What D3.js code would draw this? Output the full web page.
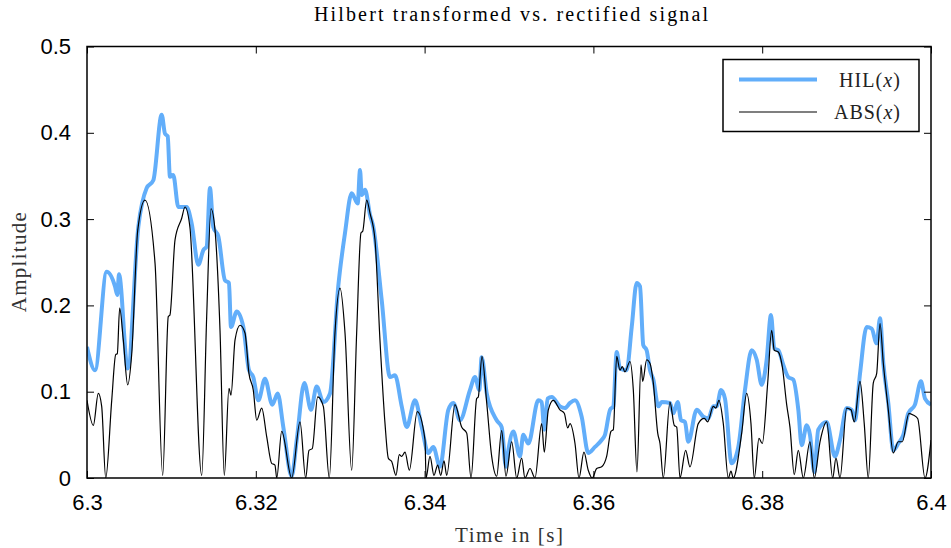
<!DOCTYPE html>
<html><head><meta charset="utf-8">
<script src="https://cdn.jsdelivr.net/npm/d3@7"></script>
<style>body{margin:0;background:#fff}</style>
</head><body>
<svg id="c" width="951" height="548"></svg>
<script>
// ---- data ----
const hilTime=[6.3,6.30095,6.30233,6.30332,6.30359,6.30379,6.30482,6.30608,6.30707,6.30786,6.30885,6.30924,6.30956,6.30983,6.31022,6.31082,6.31181,6.31240,6.31319,6.31378,6.31418,6.31457,6.31496,6.31556,6.31635,6.31682,6.31706,6.31774,6.31852,6.31919,6.31970,6.32030,6.32109,6.32195,6.32259,6.32326,6.32425,6.32485,6.32575,6.32654,6.32721,6.32800,6.32879,6.32977,6.33057,6.33136,6.33207,6.33235,6.33255,6.33294,6.33353,6.33392,6.33492,6.33590,6.33649,6.33729,6.33788,6.33886,6.33966,6.34044,6.34103,6.34182,6.34281,6.34340,6.34419,6.34538,6.34597,6.34648,6.34676,6.34736,6.34854,6.34913,6.34964,6.34992,6.35051,6.35130,6.35169,6.35229,6.35347,6.35387,6.35418,6.35458,6.35506,6.35604,6.35663,6.35723,6.35782,6.35861,6.35939,6.36019,6.36098,6.36137,6.36197,6.36236,6.36276,6.36315,6.36394,6.36454,6.36513,6.36552,6.36591,6.36631,6.36670,6.36710,6.36769,6.36809,6.36907,6.36947,6.36999,6.37038,6.37085,6.37124,6.37224,6.37302,6.37361,6.37420,6.37461,6.37512,6.37559,6.37638,6.37717,6.37796,6.37875,6.37935,6.37994,6.38053,6.38104,6.38143,6.38191,6.38250,6.38309,6.38368,6.38428,6.38468,6.38527,6.38566,6.38617,6.38664,6.38764,6.38862,6.38922,6.39001,6.39060,6.39099,6.39159,6.39238,6.39297,6.39356,6.39396,6.39435,6.39494,6.39553,6.39612,6.39672,6.39731,6.39810,6.39881,6.39929,6.4];
const hilAmp=[0.152,0.125,0.239,0.222,0.212,0.236,0.127,0.291,0.336,0.345,0.421,0.399,0.396,0.349,0.351,0.314,0.314,0.295,0.247,0.264,0.268,0.336,0.291,0.280,0.229,0.226,0.175,0.193,0.175,0.125,0.117,0.090,0.115,0.085,0.098,0.059,0.002,0.044,0.110,0.079,0.106,0.088,0.098,0.222,0.284,0.330,0.318,0.357,0.328,0.334,0.305,0.291,0.206,0.117,0.119,0.083,0.059,0.090,0.059,0.029,0.036,0.013,0.079,0.087,0.067,0.102,0.117,0.102,0.140,0.098,0.067,0.059,0.013,0.032,0.054,0.025,0.050,0.040,0.090,0.088,0.056,0.092,0.094,0.083,0.081,0.087,0.090,0.071,0.029,0.036,0.044,0.050,0.079,0.083,0.146,0.127,0.125,0.175,0.226,0.222,0.154,0.148,0.125,0.114,0.083,0.088,0.087,0.075,0.088,0.067,0.065,0.042,0.079,0.071,0.069,0.083,0.083,0.102,0.092,0.017,0.036,0.102,0.148,0.137,0.108,0.137,0.189,0.150,0.148,0.131,0.117,0.114,0.079,0.038,0.061,0.050,0.007,0.056,0.065,0.025,0.044,0.081,0.079,0.067,0.121,0.175,0.173,0.156,0.185,0.133,0.087,0.032,0.040,0.050,0.075,0.085,0.112,0.092,0.085];
const absTime=[6.3,6.30075,6.30134,6.30174,6.30222,6.30293,6.30340,6.30359,6.30387,6.30430,6.30482,6.30530,6.30601,6.30687,6.30806,6.30897,6.30963,6.30983,6.31043,6.31122,6.31161,6.31220,6.31359,6.31418,6.31469,6.31517,6.31576,6.31627,6.31682,6.31706,6.31754,6.31813,6.31872,6.31919,6.31970,6.32011,6.32070,6.32129,6.32188,6.32227,6.32248,6.32307,6.32425,6.32524,6.32591,6.32630,6.32669,6.32733,6.32800,6.32871,6.32938,6.32998,6.33057,6.33136,6.33195,6.33246,6.33267,6.33314,6.33353,6.33412,6.33471,6.33531,6.33570,6.33610,6.33661,6.33700,6.33729,6.33768,6.33819,6.33913,6.34005,6.34017,6.34064,6.34111,6.34155,6.34191,6.34230,6.34262,6.34360,6.34439,6.34499,6.34550,6.34617,6.34636,6.34680,6.34736,6.34795,6.34854,6.34913,6.34964,6.35032,6.35091,6.35150,6.35189,6.35249,6.35308,6.35387,6.35418,6.35466,6.35525,6.35604,6.35655,6.35695,6.35723,6.35782,6.35829,6.35888,6.35939,6.35987,6.36039,6.36098,6.36157,6.36208,6.36236,6.36276,6.36315,6.36342,6.36374,6.36433,6.36473,6.36516,6.36564,6.36584,6.36631,6.36670,6.36710,6.36762,6.36789,6.36828,6.36907,6.36958,6.36987,6.37026,6.37093,6.37144,6.37243,6.37314,6.37354,6.37420,6.37452,6.37488,6.37539,6.37598,6.37630,6.37657,6.37757,6.37816,6.37867,6.37906,6.37962,6.38001,6.38065,6.38112,6.38143,6.38191,6.38238,6.38290,6.38329,6.38380,6.38428,6.38487,6.38566,6.38617,6.38685,6.38764,6.38835,6.38874,6.38922,6.39001,6.39052,6.39091,6.39159,6.39209,6.39257,6.39316,6.39356,6.39396,6.39435,6.39494,6.39553,6.39612,6.39660,6.39739,6.39790,6.39842,6.39929,6.4];
const absAmp=[0.090,0.061,0.098,0.083,0.0,0.090,0.143,0.144,0.197,0.160,0.108,0.144,0.287,0.322,0.249,0.003,0.187,0.189,0.276,0.301,0.314,0.290,0.003,0.187,0.312,0.287,0.171,0.003,0.104,0.096,0.160,0.177,0.168,0.121,0.102,0.067,0.081,0.048,0.017,0.015,0.0,0.054,0.0,0.065,0.0,0.032,0.034,0.094,0.083,0.0,0.168,0.220,0.168,0.009,0.168,0.284,0.286,0.322,0.307,0.276,0.160,0.063,0.023,0.019,0.003,0.027,0.025,0.030,0.009,0.077,0.044,0.0,0.025,0.003,0.015,0.003,0.020,0.003,0.085,0.059,0.052,0.0,0.092,0.094,0.141,0.087,0.025,0.002,0.055,0.002,0.042,0.0,0.023,0.0,0.011,0.0,0.063,0.030,0.079,0.090,0.079,0.075,0.058,0.063,0.040,0.0,0.030,0.009,0.0,0.011,0.013,0.025,0.054,0.056,0.141,0.125,0.129,0.123,0.135,0.102,0.007,0.131,0.112,0.137,0.133,0.110,0.052,0.040,0.0,0.088,0.061,0.059,0.0,0.032,0.013,0.063,0.069,0.065,0.083,0.081,0.090,0.063,0.0,0.008,0.0,0.052,0.098,0.063,0.0,0.046,0.040,0.110,0.171,0.148,0.146,0.129,0.085,0.059,0.004,0.032,0.0,0.042,0.0,0.042,0.065,0.0,0.023,0.0,0.081,0.079,0.065,0.112,0.063,0.0,0.110,0.121,0.179,0.133,0.079,0.029,0.042,0.042,0.075,0.073,0.069,0.0,0.044];
const xTickValues=[6.3,6.32,6.34,6.36,6.38,6.4];
const yTickValues=[0,0.1,0.2,0.3,0.4,0.5];
const seriesLabels=["HIL","ABS"];
const titleText="Hilbert transformed vs. rectified signal";
const xLabelText="Time in [s]";
const yLabelText="Amplitude";

// ---- layout ----
const W=951,H=548;
const m={left:87,right:20,top:46.5,bottom:70};
const pw=W-m.left-m.right, ph=H-m.top-m.bottom;
const svg=d3.select("#c");
const g=svg.append("g").attr("transform",`translate(${m.left},${m.top})`);
const x=d3.scaleLinear().domain([6.3,6.4]).range([0,pw]);
const y=d3.scaleLinear().domain([0,0.5]).range([ph,0]);

const hil=hilTime.map((t,i)=>[t,hilAmp[i]]);
const abs=absTime.map((t,i)=>[t,absAmp[i]]);
const line=d3.line().x(d=>x(d[0])).y(d=>y(d[1])).curve(d3.curveMonotoneX);

svg.append("defs").append("clipPath").attr("id","clip").append("rect").attr("width",pw).attr("height",ph);
const plot=g.append("g").attr("clip-path","url(#clip)");
plot.append("path").datum(hil).attr("d",line).attr("fill","none").attr("stroke","#62aefa").attr("stroke-width",4).attr("stroke-linejoin","round");
plot.append("path").datum(abs).attr("d",line).attr("fill","none").attr("stroke","#000").attr("stroke-width",1.2).attr("stroke-linejoin","round");

// axes (ticks inward on all sides)
const tickFont='"Liberation Sans", Arial, sans-serif';
const serif='"Liberation Serif", "Times New Roman", serif';
const ax=(sel)=>{sel.select(".domain").remove();sel.selectAll("line").attr("stroke","#000").attr("stroke-width",1);};
g.append("g").attr("transform",`translate(0,${ph})`).call(d3.axisBottom(x).tickValues(xTickValues).tickSizeInner(-7).tickSizeOuter(0).tickPadding(16).tickFormat(d3.format("~g")))
 .call(ax).selectAll("text").attr("font-family",tickFont).attr("font-size",22).attr("fill","#000");
g.append("g").call(d3.axisTop(x).tickValues(xTickValues).tickSizeInner(-7).tickSizeOuter(0).tickFormat(""))
 .call(ax);
g.append("g").call(d3.axisLeft(y).tickValues(yTickValues).tickSizeInner(-7).tickSizeOuter(0).tickPadding(16).tickFormat(d3.format("~g")))
 .call(ax).selectAll("text").attr("font-family",tickFont).attr("font-size",22).attr("fill","#000");
g.append("g").attr("transform",`translate(${pw},0)`).call(d3.axisRight(y).tickValues(yTickValues).tickSizeInner(-7).tickSizeOuter(0).tickFormat(""))
 .call(ax);
g.append("rect").attr("width",pw).attr("height",ph).attr("fill","none").attr("stroke","#000").attr("stroke-width",1.5);

// title & labels
svg.append("text").attr("x",m.left+pw/2+2).attr("y",21).attr("text-anchor","middle").attr("font-family",serif).attr("font-size",20)
  .attr("textLength",394).attr("lengthAdjust","spacing").text(titleText);
svg.append("text").attr("x",m.left+pw/2).attr("y",542).attr("text-anchor","middle").attr("font-family",serif).attr("font-size",21).attr("fill","#333")
  .attr("textLength",108).attr("lengthAdjust","spacing").text(xLabelText);
svg.append("text").attr("transform",`translate(26,${m.top+ph/2}) rotate(-90)`).attr("text-anchor","middle").attr("font-family",serif).attr("font-size",21).attr("fill","#333")
  .attr("textLength",100).attr("lengthAdjust","spacing").text(yLabelText);

// legend
const lg=svg.append("g");
lg.append("rect").attr("x",723).attr("y",59.5).attr("width",196).attr("height",72).attr("fill","#fff").attr("stroke","#000").attr("stroke-width",1.5);
const items=[{c:"#62aefa",w:4,len:61},{c:"#000",w:1.2,len:66}];
items.forEach((it,i)=>{
  const yy=79.5+i*32.5;
  lg.append("line").attr("x1",739).attr("x2",817).attr("y1",yy).attr("y2",yy).attr("stroke",it.c).attr("stroke-width",it.w);
  const t=lg.append("text").attr("x",900).attr("y",yy+7).attr("text-anchor","end").attr("font-family",serif).attr("font-size",20).attr("fill","#222")
    .attr("textLength",it.len).attr("lengthAdjust","spacing");
  t.append("tspan").text(seriesLabels[i]+"(");
  t.append("tspan").attr("font-style","italic").text("x");
  t.append("tspan").text(")");
});
</script>
</body></html>
